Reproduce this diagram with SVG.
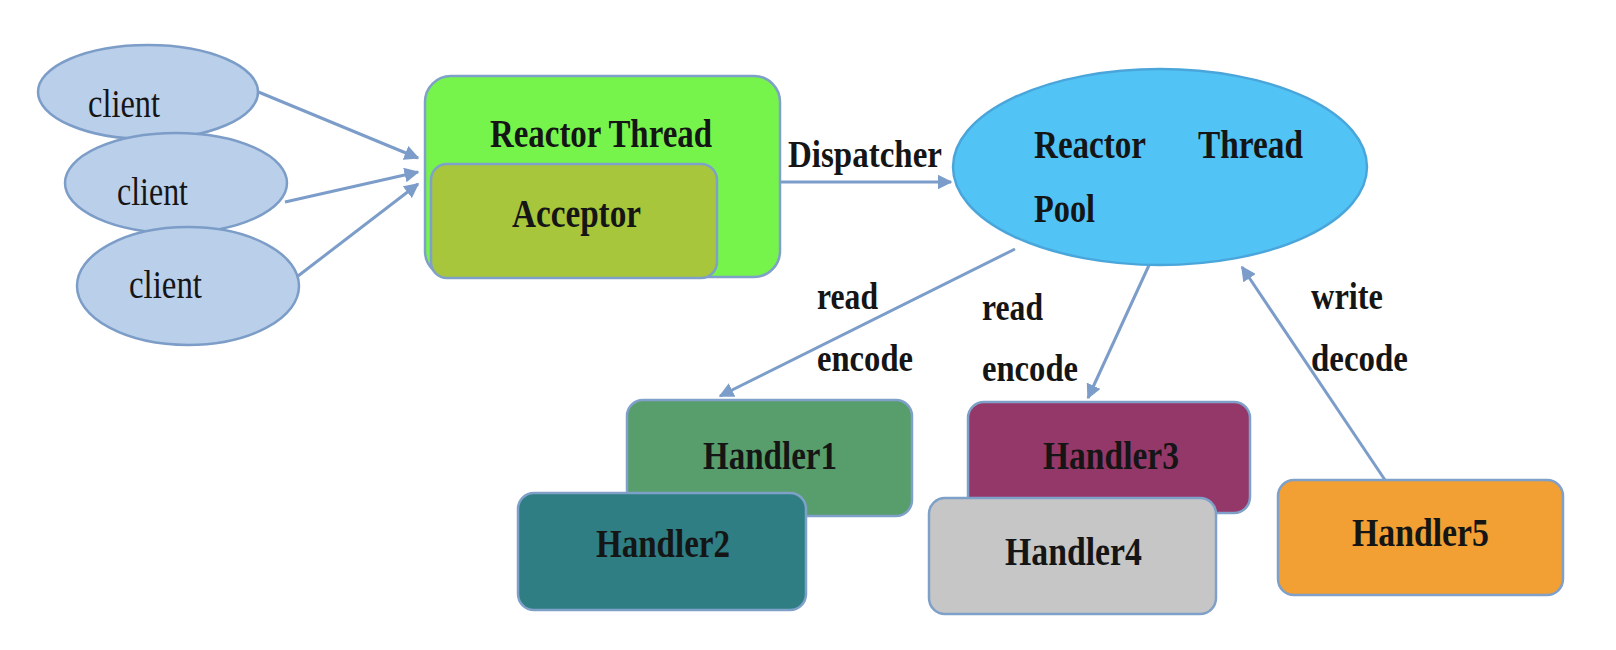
<svg xmlns="http://www.w3.org/2000/svg" width="1616" height="650" viewBox="0 0 1616 650">
<style>
text{font-family:"Liberation Serif","Times New Roman",serif;fill:#151515;font-weight:bold;}
.lbl{font-size:40px;}
.sm{font-size:38px;}
.client ellipse{fill:#BACFEA;stroke:#7C9DC7;stroke-width:2.5;}
.client text{font-weight:normal;font-size:40px;}
.edge{stroke:#7C9DC9;stroke-width:3;fill:none;marker-end:url(#ah);}
.box{stroke:#7FA0C8;stroke-width:2.5;}
</style>
<defs>
<marker id="ah" viewBox="0 0 10 10" refX="9" refY="5" markerWidth="5" markerHeight="5" orient="auto" markerUnits="strokeWidth">
<path d="M0,0 L10,5 L0,10 Z" fill="#7C9DC9"/>
</marker>
</defs>
<rect width="1616" height="650" fill="#ffffff"/>

<g id="connectors">
<line class="edge" x1="256" y1="91" x2="418" y2="158"/>
<line class="edge" x1="285" y1="202" x2="418" y2="172"/>
<line class="edge" x1="298" y1="276" x2="418" y2="184"/>
<line class="edge" x1="780" y1="182" x2="951" y2="182"/>
<line class="edge" x1="1015" y1="249" x2="720" y2="396"/>
<line class="edge" x1="1150" y1="263" x2="1088" y2="398"/>
<line class="edge" x1="1385" y1="480" x2="1242" y2="267"/>
<text class="sm" x="788" y="167" textLength="154" lengthAdjust="spacingAndGlyphs">Dispatcher</text>
<text class="sm" x="817" y="309" textLength="61" lengthAdjust="spacingAndGlyphs">read</text>
<text class="sm" x="817" y="371" textLength="96" lengthAdjust="spacingAndGlyphs">encode</text>
<text class="sm" x="982" y="320" textLength="61" lengthAdjust="spacingAndGlyphs">read</text>
<text class="sm" x="982" y="381" textLength="96" lengthAdjust="spacingAndGlyphs">encode</text>
<text class="sm" x="1311" y="309" textLength="72" lengthAdjust="spacingAndGlyphs">write</text>
<text class="sm" x="1311" y="371" textLength="97" lengthAdjust="spacingAndGlyphs">decode</text>
</g>

<g id="client1" class="client">
<ellipse cx="148" cy="92" rx="110" ry="47"/>
<text x="88" y="117" textLength="72" lengthAdjust="spacingAndGlyphs">client</text>
</g>
<g id="client2" class="client">
<ellipse cx="176" cy="183" rx="111" ry="50"/>
<text x="117" y="205" textLength="71" lengthAdjust="spacingAndGlyphs">client</text>
</g>
<g id="client3" class="client">
<ellipse cx="188" cy="286" rx="111" ry="59"/>
<text x="129" y="298" textLength="73" lengthAdjust="spacingAndGlyphs">client</text>
</g>

<g id="reactor-thread">
<rect class="box" x="425" y="76" width="355" height="201" rx="26" fill="#76F44C"/>
<text class="lbl" x="490" y="147" textLength="222" lengthAdjust="spacingAndGlyphs">Reactor Thread</text>
</g>
<g id="acceptor">
<rect class="box" x="431" y="164" width="286" height="114" rx="16" fill="#A7C63B"/>
<text class="lbl" x="512" y="227" textLength="129" lengthAdjust="spacingAndGlyphs">Acceptor</text>
</g>

<g id="reactor-pool">
<ellipse cx="1160" cy="167" rx="207" ry="98" fill="#52C3F5" stroke="#4AA6DA" stroke-width="2.5"/>
<text class="lbl" x="1034" y="158" textLength="112" lengthAdjust="spacingAndGlyphs">Reactor</text>
<text class="lbl" x="1198" y="158" textLength="105" lengthAdjust="spacingAndGlyphs">Thread</text>
<text class="lbl" x="1034" y="222" textLength="61" lengthAdjust="spacingAndGlyphs">Pool</text>
</g>

<g id="handler1">
<rect class="box" x="627" y="400" width="285" height="116" rx="16" fill="#579E6C"/>
<text class="lbl" x="703" y="469" textLength="134" lengthAdjust="spacingAndGlyphs">Handler1</text>
</g>
<g id="handler2">
<rect class="box" x="518" y="493" width="288" height="117" rx="16" fill="#2F7E83"/>
<text class="lbl" x="596" y="557" textLength="134" lengthAdjust="spacingAndGlyphs">Handler2</text>
</g>
<g id="handler3">
<rect class="box" x="968" y="402" width="282" height="111" rx="16" fill="#94386A"/>
<text class="lbl" x="1043" y="469" textLength="136" lengthAdjust="spacingAndGlyphs">Handler3</text>
</g>
<g id="handler4">
<rect class="box" x="929" y="498" width="287" height="116" rx="16" fill="#C6C6C6"/>
<text class="lbl" x="1005" y="565" textLength="137" lengthAdjust="spacingAndGlyphs">Handler4</text>
</g>
<g id="handler5">
<rect class="box" x="1278" y="480" width="285" height="115" rx="16" fill="#F29F33"/>
<text class="lbl" x="1352" y="546" textLength="137" lengthAdjust="spacingAndGlyphs">Handler5</text>
</g>
</svg>
